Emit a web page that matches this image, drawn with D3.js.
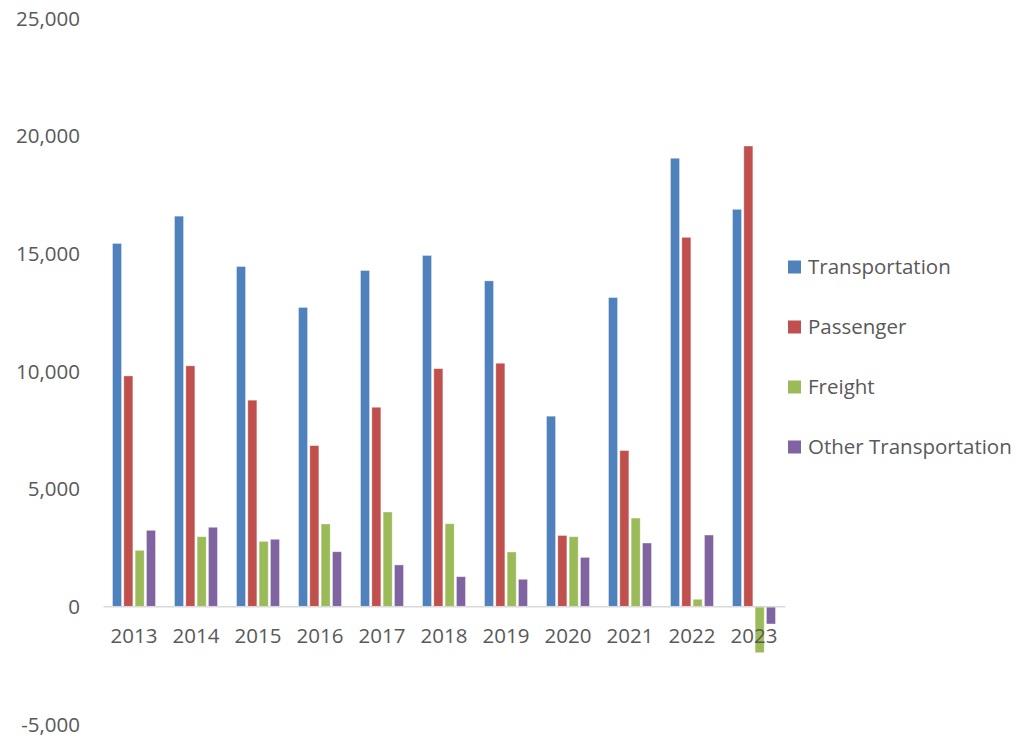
<!DOCTYPE html>
<html>
<head>
<meta charset="utf-8">
<script src="https://cdn.jsdelivr.net/npm/d3@7"></script>
<style>
  html, body { margin: 0; padding: 0; background: #fff; }
  svg { display: block; }
  text { font-family: "Open Sans", "Noto Sans", sans-serif; fill: #595959; }
</style>
</head>
<body>
<svg id="chart" width="1017" height="738"></svg>
<script>
const years = ["2013","2014","2015","2016","2017","2018","2019","2020","2021","2022","2023"];
const seriesNames = ["Transportation","Passenger","Freight","Other Transportation"];
const transportation = [15420, 16580, 14440, 12700, 14270, 14910, 13830, 8080, 13120, 19040, 16870];
const passenger      = [9790, 10220, 8760, 6830, 8460, 10100, 10330, 3010, 6620, 15680, 19560];
const freight        = [2380, 2960, 2760, 3500, 4010, 3510, 2310, 2960, 3750, 300, -1970];
const otherTransport = [3230, 3360, 2850, 2320, 1760, 1260, 1150, 2080, 2690, 3030, -750];
const yTicks = [-5000, 0, 5000, 10000, 15000, 20000, 25000];
const colors = ["#4f81bd", "#c0504d", "#9bbb59", "#8064a2"];

const seriesValues = [transportation, passenger, freight, otherTransport];
const svg = d3.select("#chart");
const FS = "20.5px";

const y = d3.scaleLinear().domain([-5000, 25000]).range([724, 18]);
const x0 = d3.scaleBand().domain(years).range([103, 785]).padding(0);
const x1 = d3.scaleBand().domain(seriesNames).range([9.5, 52.5]).paddingInner(0.2).paddingOuter(0);
const color = d3.scaleOrdinal().domain(seriesNames).range(colors);

// Y axis labels (no line)
const fmt = d3.format(",");
const yAxis = d3.axisLeft(y).tickValues(yTicks).tickSize(0).tickPadding(0)
  .tickFormat(d => fmt(d).replace("\u2212", "-"));
const gy = svg.append("g").attr("transform", "translate(80,0)").call(yAxis);
gy.select(".domain").remove();
gy.selectAll("text").style("font-size", FS).attr("fill", "#595959").attr("dy", "0.35em");

// bars
const groups = svg.append("g").selectAll("g").data(years).join("g")
  .attr("transform", d => `translate(${x0(d)},0)`);
groups.selectAll("rect")
  .data((yr, i) => seriesNames.map((s, k) => ({ s, v: seriesValues[k][i] })))
  .join("rect")
  .attr("x", d => x1(d.s))
  .attr("width", x1.bandwidth())
  .attr("y", d => y(Math.max(0, d.v)))
  .attr("height", d => Math.abs(y(d.v) - y(0)))
  .attr("fill", d => color(d.s))
  .attr("stroke", "rgba(255,255,255,0.45)")
  .attr("stroke-width", 0.8);

// x axis line at zero
const xAxis = d3.axisBottom(x0).tickSize(0).tickPadding(22);
const gx = svg.append("g").attr("transform", `translate(0,${y(0)})`).call(xAxis);
gx.select(".domain").attr("stroke", "#d9d9d9").attr("stroke-width", 1.5);
gx.selectAll("text").style("font-size", FS).attr("fill", "#595959");

// legend
const legend = svg.append("g").selectAll("g").data(seriesNames).join("g")
  .attr("transform", (d, i) => `translate(788,${267 + i * 60})`);
legend.append("rect").attr("x", 0).attr("y", -6.5).attr("width", 13).attr("height", 13)
  .attr("fill", d => color(d));
legend.append("text").attr("x", 20).attr("y", 0).attr("dy", "0.35em")
  .style("font-size", FS).text(d => d);
</script>
</body>
</html>
